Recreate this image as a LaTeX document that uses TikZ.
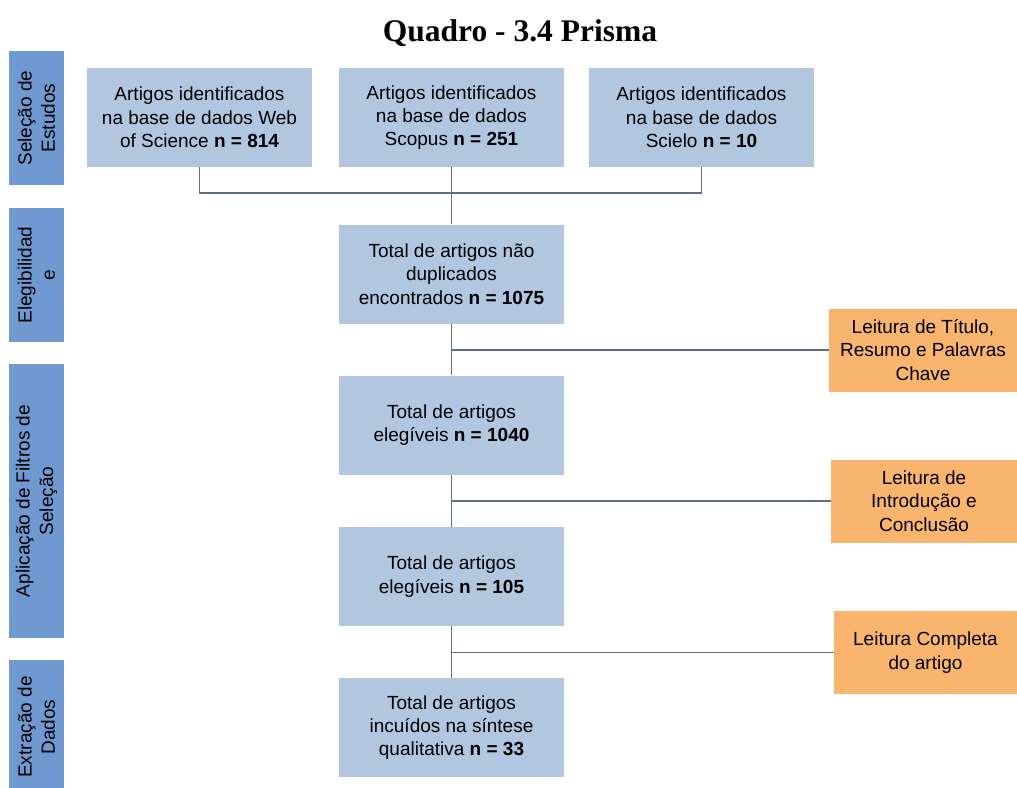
\documentclass[tikz,border=0pt]{standalone}
\usepackage{fontspec}
\setmainfont{Liberation Sans}
\newfontfamily\titlefont{Liberation Serif}
\usetikzlibrary{positioning}
\definecolor{corCaixa}{HTML}{B3C6DF}
\definecolor{corFase}{HTML}{7099D1}
\definecolor{corLeitura}{HTML}{F9B46E}
\definecolor{corLinha}{HTML}{5E6E80}
\tikzset{
  caixa/.style={fill=corCaixa, minimum width=225pt, minimum height=99pt, align=center, inner sep=0pt, font=\fontsize{19}{23.3}\selectfont},
  fase/.style={fill=corFase, rotate=90, minimum height=55pt, align=center, inner sep=0pt, font=\fontsize{19}{23.3}\selectfont},
  leitura/.style={fill=corLeitura, minimum height=83pt, align=center, inner sep=0pt, font=\fontsize{19}{23.3}\selectfont},
  liga/.style={draw=corLinha, line width=1.3pt}
}
\begin{document}
\begin{tikzpicture}[x=1pt, y=-1pt]
\useasboundingbox (0, 0) rectangle (1017, 787);
\node[anchor=base] (titulo) at (520, 41) {\titlefont\bfseries\fontsize{31.5}{31.5}\selectfont Quadro - 3.4 Prisma};

\node[fase, minimum width=134pt] (selecao) at (36.5, 118) {Seleção de\\Estudos};
\node[fase, minimum width=134pt] (elegib) at (36.5, 275) {Elegibilidad\\e};
\node[fase, minimum width=274pt] (filtros) at (36.5, 501) {Aplicação de Filtros de\\Seleção};
\node[fase, minimum width=134pt] (extracao) at (36.5, 727) {Extração de\\Dados};

\node[caixa] (wos) at (199.5, 117.5) {Artigos identificados\\na base de dados Web\\of Science \textbf{n = 814}};
\node[caixa] (scopus) at (451.5, 117.5) {Artigos identificados\\na base de dados\\Scopus \textbf{n = 251}};
\node[caixa] (scielo) at (701.5, 117.5) {Artigos identificados\\na base de dados\\Scielo \textbf{n = 10}};
\node[caixa] (total) at (451.5, 274) {Total de artigos não\\duplicados\\encontrados \textbf{n = 1075}};
\node[caixa] (eleg1) at (451.5, 425) {Total de artigos\\elegíveis \textbf{n = 1040}};
\node[caixa] (eleg2) at (451.5, 576.5) {Total de artigos\\elegíveis \textbf{n = 105}};
\node[caixa] (sintese) at (451.5, 727.5) {Total de artigos\\incuídos na síntese\\qualitativa \textbf{n = 33}};

\node[leitura, minimum width=188pt] (titres) at (923, 350) {Leitura de Título,\\Resumo e Palavras\\Chave};
\node[leitura, minimum width=186pt] (intro) at (924, 501) {Leitura de\\Introdução e\\Conclusão};
\node[leitura, minimum width=183pt] (completa) at (925.5, 652.5) {Leitura Completa\\do artigo};

\coordinate (junta) at (451.5, 193);
\draw[liga] (wos.south) |- (junta) -| (scielo.south);
\draw[liga] (scopus.south) -- (total.north);
\draw[liga] (total.south) -- (eleg1.north);
\draw[liga] (eleg1.south) -- (eleg2.north);
\draw[liga] (eleg2.south) -- (sintese.north);
\draw[liga] (total.south |- titres.west) -- (titres.west);
\draw[liga] (eleg1.south |- intro.west) -- (intro.west);
\draw[liga] (eleg2.south |- completa.west) -- (completa.west);
\end{tikzpicture}
\end{document}
